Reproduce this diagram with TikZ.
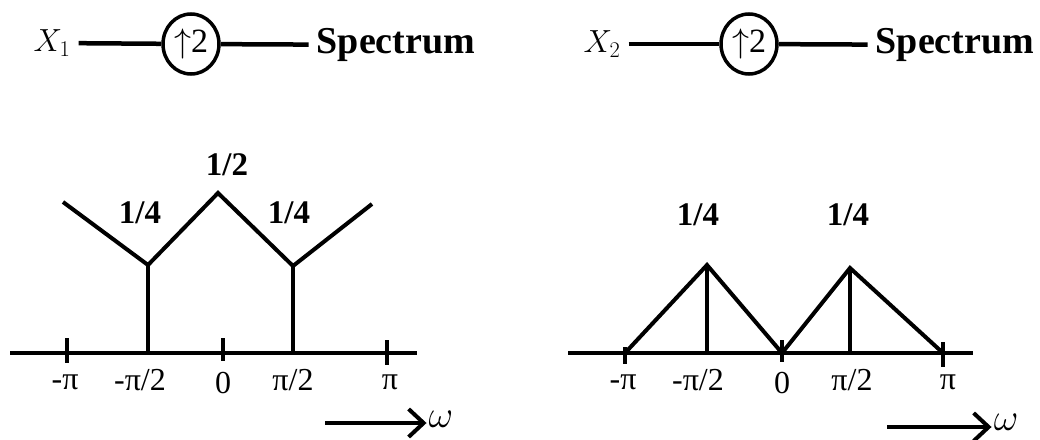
\RequirePackage{fix-cm}
\documentclass[tikz,border=0pt]{standalone}
\usepackage{fontspec}
\setmainfont{Liberation Serif}
\usepackage{tikz}
\usetikzlibrary{positioning,arrows.meta,calc,shapes.geometric}

\begin{document}
\begin{tikzpicture}[
  x=1pt, y=-1pt,
  inlbl/.style={inner sep=2pt, font=\fontsize{32}{34}\selectfont},
  upsamp/.style={
    draw, ellipse, line width=3.5pt, minimum width=56pt, minimum height=60pt, inner sep=0pt,
    font=\fontsize{34}{36}\selectfont,
  },
  speclbl/.style={inner sep=2pt, font=\bfseries\fontsize{38}{40}\selectfont},
  wire/.style={draw, line width=4.5pt, shorten <=6pt, shorten >=6pt},
  curve/.style={draw, line width=4pt, line join=miter},
  axis/.style={draw, line width=4pt},
  tick/.style={draw, line width=4pt},
  ticklbl/.style={inner sep=0pt, font=\fontsize{32}{34}\selectfont},
  vallbl/.style={inner sep=0pt, font=\bfseries\fontsize{33}{35}\selectfont},
  wlbl/.style={inner sep=2pt, font=\fontsize{38}{40}\selectfont},
  warrow/.style={->, draw, line width=4pt, >={Straight Barb[length=15pt, width=28pt]}},
]
\useasboundingbox (0,0) rectangle (1040,439);

% Upper row: the two up-samplers
\node[inlbl] (xa) at (52,43) {$X_1$};
\node[upsamp] (upa) at (191,44) {$\uparrow$2};
\node[speclbl] (speca) at (396,45) {Spectrum};
\draw[wire, shorten >=0pt] (xa) -- (upa);
\draw[wire, shorten <=0pt] (upa) -- (speca);

\node[inlbl] (xb) at (602,44) {$X_2$};
\node[upsamp] (upb) at (749,44) {$\uparrow$2};
\node[speclbl] (specb) at (955,45) {Spectrum};
\draw[wire, shorten >=0pt] (xb) -- (upb);
\draw[wire, shorten <=0pt] (upb) -- (specb);

% Left spectrum
\coordinate (la0) at (10,353);
\coordinate (la1) at (417,353);
\draw[axis] (la0) -- (la1);
\draw[tick] (67,338) -- (67,363);
\draw[tick] (223,338) -- (223,361);
\draw[tick] (387,340) -- (387,365);

\coordinate (lp1) at (63,202);
\coordinate (lp2) at (148,265);
\coordinate (lp3) at (218,193);
\coordinate (lp4) at (293,266);
\coordinate (lp5) at (372,204);
\draw[curve] (lp1) -- (lp2) -- (lp3) -- (lp4) -- (lp5);
\draw[curve] (lp2) -- (148,353);
\draw[curve] (lp4) -- (293,353);

\node[vallbl] (lhalf) at (227,165) {1/2};
\node[vallbl] (lqa) at (140,213) {1/4};
\node[vallbl] (lqb) at (289,213) {1/4};

\node[ticklbl] (lt1) at (65,382) {-π};
\node[ticklbl] (lt2) at (140,380) {-π/2};
\node[ticklbl] (lt3) at (223,383) {0};
\node[ticklbl] (lt4) at (293,380) {π/2};
\node[ticklbl] (lt5) at (390,382) {π};

\node[wlbl] (lw) at (441,419) {$\omega$};
\coordinate (lwa) at (325,423);
\draw[warrow] (lwa) -- (lw.west |- lwa);

% Right spectrum
\coordinate (ra0) at (568,353);
\coordinate (ra1) at (973,353);
\draw[axis] (ra0) -- (ra1);
\draw[tick] (625,347) -- (625,364);
\draw[tick] (782,340) -- (782,362);
\draw[tick] (943,342) -- (943,367);

\coordinate (rp1) at (625,353);
\coordinate (rp2) at (707,265);
\coordinate (rp3) at (782,353);
\coordinate (rp4) at (850,268);
\coordinate (rp5) at (943,353);
\draw[curve] (rp1) -- (rp2) -- (rp3) -- (rp4) -- (rp5);
\draw[curve] (rp2) -- (707,353);
\draw[curve] (rp4) -- (850,353);

\node[vallbl] (rqa) at (698,215) {1/4};
\node[vallbl] (rqb) at (848,215) {1/4};

\node[ticklbl] (rt1) at (623,382) {-π};
\node[ticklbl] (rt2) at (698,380) {-π/2};
\node[ticklbl] (rt3) at (782,383) {0};
\node[ticklbl] (rt4) at (852,380) {π/2};
\node[ticklbl] (rt5) at (948,382) {π};

\node[wlbl] (rw) at (1006,422) {$\omega$};
\coordinate (rwa) at (887,427);
\draw[warrow] (rwa) -- (rw.west |- rwa);
\end{tikzpicture}
\end{document}
